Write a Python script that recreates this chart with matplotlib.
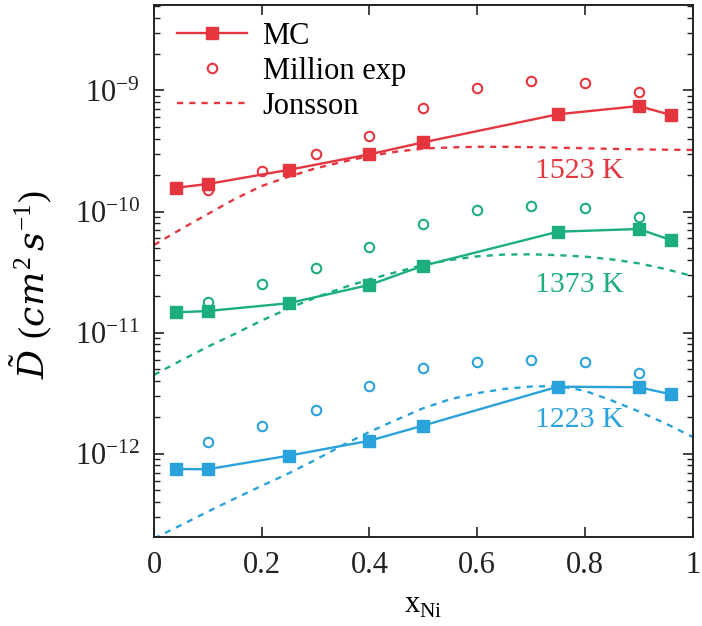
import numpy as np
import matplotlib
matplotlib.use("Agg")
import matplotlib.pyplot as plt
from matplotlib.ticker import FixedLocator, FixedFormatter, LogLocator, NullFormatter

plt.rcParams['font.family'] = ['Liberation Serif', 'DejaVu Serif']
plt.rcParams['mathtext.fontset'] = 'custom'
plt.rcParams['mathtext.rm'] = 'Liberation Serif'
plt.rcParams['mathtext.it'] = 'DejaVu Serif:italic'
plt.rcParams['mathtext.bf'] = 'Liberation Serif:bold'

# ---- data ----
x_mc = [0.04, 0.10, 0.25, 0.40, 0.50, 0.75, 0.90, 0.96]
mc_1523 = [1.57e-10, 1.69e-10, 2.21e-10, 2.97e-10, 3.73e-10, 6.36e-10, 7.44e-10, 6.28e-10]
mc_1373 = [1.47e-11, 1.51e-11, 1.75e-11, 2.48e-11, 3.57e-11, 6.82e-11, 7.18e-11, 5.82e-11]
mc_1223 = [7.48e-13, 7.45e-13, 9.64e-13, 1.28e-12, 1.71e-12, 3.58e-12, 3.54e-12, 3.10e-12]

x_exp = [0.1, 0.2, 0.3, 0.4, 0.5, 0.6, 0.7, 0.8, 0.9]
exp_1523 = [1.51e-10, 2.16e-10, 2.97e-10, 4.21e-10, 7.21e-10, 1.05e-9, 1.20e-9, 1.16e-9, 9.78e-10]
exp_1373 = [1.80e-11, 2.51e-11, 3.44e-11, 5.13e-11, 7.90e-11, 1.04e-10, 1.12e-10, 1.08e-10, 8.97e-11]
exp_1223 = [1.24e-12, 1.68e-12, 2.30e-12, 3.63e-12, 5.14e-12, 5.69e-12, 5.95e-12, 5.69e-12, 4.62e-12]

x_jon = [0.0, 0.05, 0.1, 0.15, 0.2, 0.25, 0.3, 0.35, 0.4, 0.45, 0.5,
         0.55, 0.6, 0.65, 0.7, 0.75, 0.8, 0.85, 0.9, 0.95, 1.0]
logjon_1523 = [-10.276, -10.145, -10.02, -9.896, -9.789, -9.712, -9.643, -9.59, -9.541, -9.505, -9.48,
               -9.47, -9.465, -9.465, -9.468, -9.472, -9.477, -9.482, -9.486, -9.489, -9.491]
logjon_1373 = [-11.349, -11.23, -11.116, -11.01, -10.90, -10.80, -10.71, -10.63, -10.56, -10.50, -10.44,
               -10.40, -10.37, -10.355, -10.353, -10.36, -10.372, -10.395, -10.427, -10.475, -10.532]
logjon_1223 = [-12.70, -12.59, -12.478, -12.37, -12.265, -12.162, -12.05, -11.93, -11.82, -11.72, -11.624,
               -11.55, -11.50, -11.465, -11.445, -11.44, -11.48, -11.56, -11.65, -11.75, -11.86]

temps = ['1523 K', '1373 K', '1223 K']
x_ticks = [0, 0.2, 0.4, 0.6, 0.8, 1]
x_ticklabels = ['0', '0.2', '0.4', '0.6', '0.8', '1']
y_ticks = [1e-12, 1e-11, 1e-10, 1e-9]
y_ticklabels = [r'$\mathregular{10^{-12}}$', r'$\mathregular{10^{-11}}$',
                r'$\mathregular{10^{-10}}$', r'$\mathregular{10^{-9}}$']

# ---- style ----
colors = ['#E5363F', '#1DAE7E', '#2AA2DC']
label_pos = [(0.789, 1.89e-10), (0.789, 2.17e-11), (0.789, 1.66e-12)]

fig = plt.figure(figsize=(7.02, 6.26), dpi=100)
ax = fig.add_axes([154/702, 1-537.3/626, (692.5-154)/702, (537.3-5)/626])

mc_all = [mc_1523, mc_1373, mc_1223]
exp_all = [exp_1523, exp_1373, exp_1223]
jon_all = [logjon_1523, logjon_1373, logjon_1223]

for i in range(3):
    c = colors[i]
    ax.plot(x_mc, mc_all[i], '-', color=c, lw=1.7, marker='s', ms=8.5,
            label='MC' if i == 0 else None, zorder=3)
    ax.plot(x_exp, exp_all[i], 'o', color=c, mfc='none', mec=c, ms=6.8, mew=1.5,
            label='Million exp' if i == 0 else None, zorder=3)
    ax.plot(x_jon, 10**np.array(jon_all[i]), color=c, lw=1.7, ls=(0, (2.6, 2.6)),
            label='Jonsson' if i == 0 else None, zorder=2)
    ax.text(label_pos[i][0], label_pos[i][1], temps[i], color=c, fontsize=21.5,
            ha='center', va='baseline')

ax.set_yscale('log')
ax.set_xlim(0, 1)
ax.set_ylim(10**-12.69, 10**-8.294)

ax.xaxis.set_major_locator(FixedLocator(x_ticks))
ax.xaxis.set_major_formatter(FixedFormatter(x_ticklabels))
ax.yaxis.set_major_locator(FixedLocator(y_ticks))
ax.yaxis.set_major_formatter(FixedFormatter(y_ticklabels))
ax.yaxis.set_minor_locator(LogLocator(base=10, subs=np.arange(2, 10), numticks=20))
ax.yaxis.set_minor_formatter(NullFormatter())

ax.tick_params(which='both', direction='in', top=True, right=True, colors='#222222')
ax.tick_params(which='major', length=7, width=1.2, labelsize=22, pad=10)
ax.tick_params(which='minor', length=4, width=1.0)
for s in ax.spines.values():
    s.set_linewidth(1.4)
    s.set_color('#222222')

ax.set_xlabel(r'x$_{\mathregular{Ni}}$', fontsize=22, labelpad=8)
ax.set_ylabel(r'$\tilde{D}\ (cm^2\,s^{-1})$', fontsize=26)
ax.yaxis.set_label_coords(-0.186, 0.474)

leg = ax.legend(loc='upper left', frameon=False, fontsize=22, handlelength=2.3,
                handletextpad=0.5, labelspacing=0.2, borderaxespad=0.14,
                bbox_to_anchor=(0.012, 1.0))

fig.savefig('out.png', dpi=100)
